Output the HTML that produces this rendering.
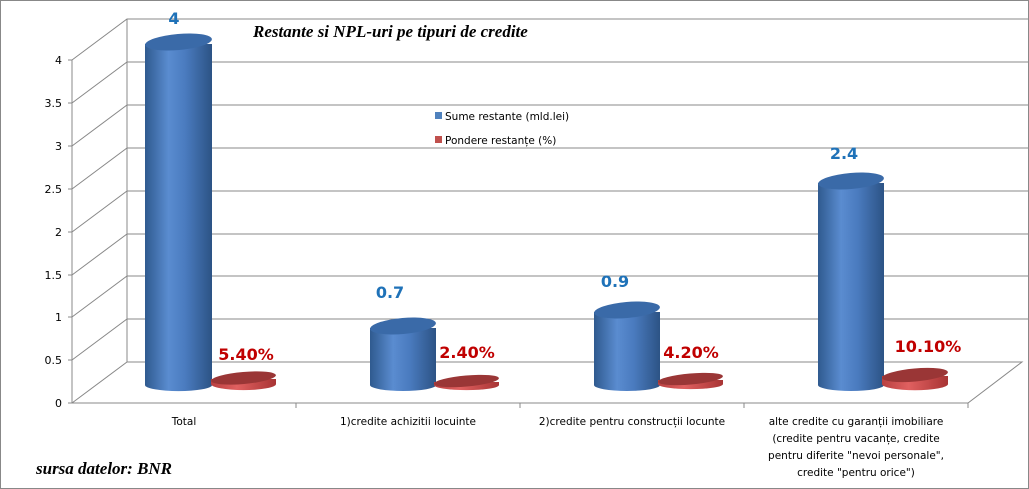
<!DOCTYPE html>
<html><head><style>body{margin:0;background:#fff}svg{display:block}</style></head><body>
<svg width="1029" height="489" viewBox="0 0 1029 489" xmlns="http://www.w3.org/2000/svg">
<defs>
<linearGradient id="b" x1="0" x2="1"><stop offset="0" stop-color="#2f5a8f"/><stop offset="0.35" stop-color="#5a8cd0"/><stop offset="0.6" stop-color="#4a7bbf"/><stop offset="1" stop-color="#2c5385"/></linearGradient>
<linearGradient id="r" x1="0" x2="1"><stop offset="0" stop-color="#b84040"/><stop offset="0.4" stop-color="#e06060"/><stop offset="1" stop-color="#a83434"/></linearGradient>
</defs>
<rect x="0.5" y="0.5" width="1028" height="488" fill="#fff" stroke="#888"/>
<g stroke="#888" stroke-width="1" fill="none">
<line x1="127" y1="19" x2="127" y2="362"/>
<polyline points="72,60 127,19 1029,19"/>
<polyline points="72,103 127,62 1029,62"/>
<polyline points="72,146 127,105 1029,105"/>
<polyline points="72,189 127,148 1029,148"/>
<polyline points="72,232 127,191 1029,191"/>
<polyline points="72,275 127,234 1029,234"/>
<polyline points="72,317 127,276 1029,276"/>
<polyline points="72,360 127,319 1029,319"/>
<polyline points="72,403 127,362 1022,362 968,403 72,403"/>
<line x1="72" y1="60" x2="72" y2="403"/>
<line x1="68" y1="60" x2="72" y2="60"/><line x1="68" y1="103" x2="72" y2="103"/><line x1="68" y1="146" x2="72" y2="146"/><line x1="68" y1="189" x2="72" y2="189"/><line x1="68" y1="232" x2="72" y2="232"/><line x1="68" y1="275" x2="72" y2="275"/><line x1="68" y1="317" x2="72" y2="317"/><line x1="68" y1="360" x2="72" y2="360"/><line x1="68" y1="403" x2="72" y2="403"/>
<line x1="296" y1="403" x2="296" y2="408"/><line x1="520" y1="403" x2="520" y2="408"/><line x1="744" y1="403" x2="744" y2="408"/><line x1="968" y1="403" x2="968" y2="408"/>
</g>
<g font-family="'DejaVu Sans',sans-serif" font-size="11" fill="#000" text-anchor="end">
<text x="62" y="64">4</text><text x="62" y="107">3.5</text><text x="62" y="150">3</text><text x="62" y="193">2.5</text><text x="62" y="236">2</text><text x="62" y="279">1.5</text><text x="62" y="321">1</text><text x="62" y="364">0.5</text><text x="62" y="407">0</text>
</g>
<g>
<path d="M145,44 L145,385 A33,6 0 0 0 212,385 L212,44 Z" fill="url(#b)"/><ellipse cx="178.5" cy="42" rx="33.5" ry="8" fill="#3a6aa8" transform="rotate(-5 178.5 42)"/>
<path d="M370,328 L370,385 A33,6 0 0 0 436,385 L436,328 Z" fill="url(#b)"/><ellipse cx="403" cy="326" rx="33" ry="8" fill="#3a6aa8" transform="rotate(-5 403 326)"/>
<path d="M594,312 L594,385 A33,6 0 0 0 660,385 L660,312 Z" fill="url(#b)"/><ellipse cx="627" cy="310" rx="33" ry="8" fill="#3a6aa8" transform="rotate(-5 627 310)"/>
<path d="M818,183 L818,385 A33,6 0 0 0 884,385 L884,183 Z" fill="url(#b)"/><ellipse cx="851" cy="181" rx="33" ry="8" fill="#3a6aa8" transform="rotate(-5 851 181)"/>
<path d="M211,379 L211,384 A32,6 0 0 0 276,384 L276,379 Z" fill="url(#r)"/><ellipse cx="243.5" cy="378" rx="32.5" ry="6" fill="#9a3636" transform="rotate(-5 243.5 378)"/>
<path d="M434,382 L434,385 A32,5 0 0 0 499,385 L499,382 Z" fill="url(#r)"/><ellipse cx="466.5" cy="381" rx="32.5" ry="5.5" fill="#9a3636" transform="rotate(-5 466.5 381)"/>
<path d="M658,380 L658,384 A32,5 0 0 0 723,384 L723,380 Z" fill="url(#r)"/><ellipse cx="690.5" cy="379" rx="32.5" ry="5.5" fill="#9a3636" transform="rotate(-5 690.5 379)"/>
<path d="M882,376 L882,384 A32,6 0 0 0 948,384 L948,376 Z" fill="url(#r)"/><ellipse cx="915" cy="375" rx="33" ry="6.5" fill="#9a3636" transform="rotate(-5 915 375)"/>
</g>
<g font-family="'DejaVu Sans',sans-serif" font-weight="bold" font-size="16" text-anchor="middle">
<text x="174" y="24" fill="#1f72b8">4</text>
<text x="246" y="360" fill="#c00000">5.40%</text>
<text x="390" y="298" fill="#1f72b8">0.7</text>
<text x="467" y="358" fill="#c00000">2.40%</text>
<text x="615" y="287" fill="#1f72b8">0.9</text>
<text x="691" y="358" fill="#c00000">4.20%</text>
<text x="844" y="159" fill="#1f72b8">2.4</text>
<text x="928" y="352" fill="#c00000">10.10%</text>
</g>
<text x="253" y="37" font-family="'Liberation Serif',serif" font-style="italic" font-weight="bold" font-size="17">Restante si NPL-uri pe tipuri de credite</text>
<rect x="435" y="112" width="7" height="7" fill="#4f81bd"/><text x="445" y="120" font-family="'DejaVu Sans',sans-serif" font-size="10.5">Sume restante (mld.lei)</text>
<rect x="435" y="136" width="7" height="7" fill="#c0504d"/><text x="445" y="144" font-family="'DejaVu Sans',sans-serif" font-size="10.5">Pondere restanțe (%)</text>
<g font-family="'DejaVu Sans',sans-serif" font-size="10.5" text-anchor="middle">
<text x="184" y="425">Total</text>
<text x="408" y="425">1)credite achizitii locuinte</text>
<text x="632" y="425">2)credite pentru construcții locunte</text>
<text x="856" y="425">alte credite cu garanții imobiliare</text>
<text x="856" y="442">(credite pentru vacanțe, credite</text>
<text x="856" y="459">pentru diferite "nevoi personale",</text>
<text x="856" y="476">credite "pentru orice")</text>
</g>
<text x="36" y="474" font-family="'Liberation Serif',serif" font-style="italic" font-weight="bold" font-size="17">sursa datelor: BNR</text>
</svg>
</body></html>
